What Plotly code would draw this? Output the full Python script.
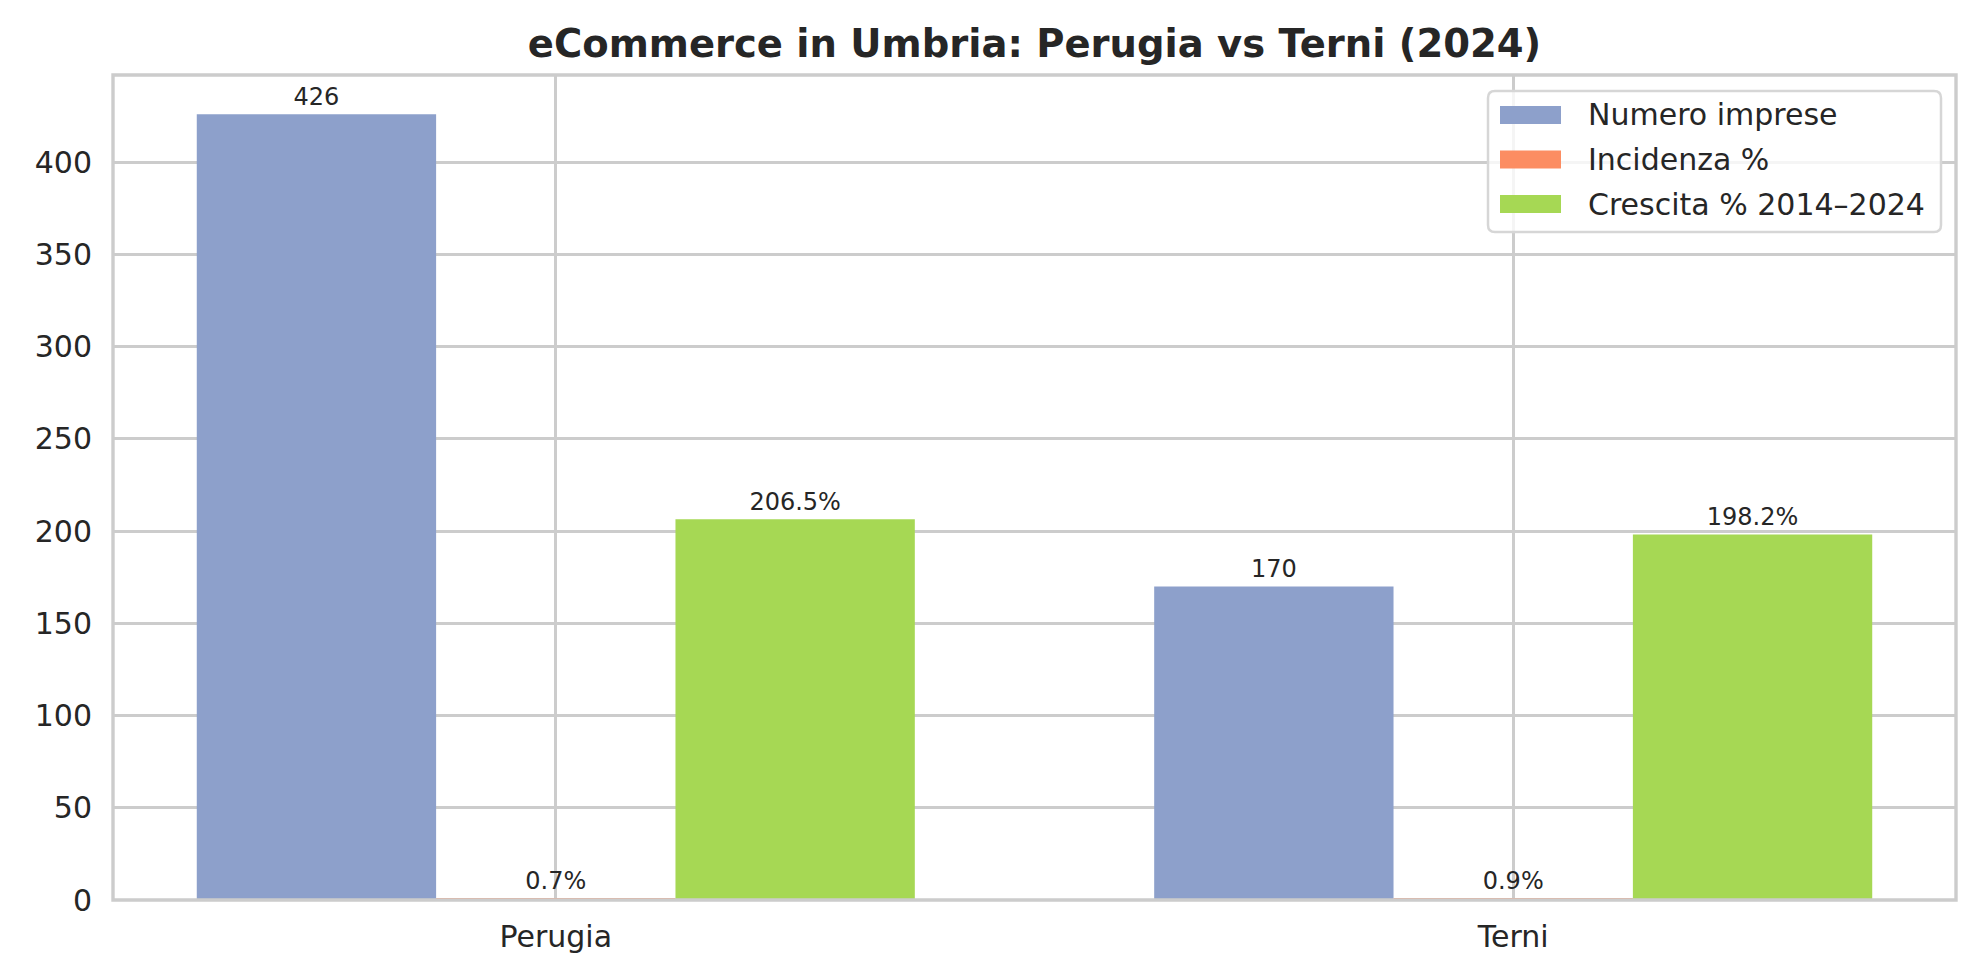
import plotly.graph_objects as go

# ---- data ----
categories = ["Perugia", "Terni"]
series_names = ["Numero imprese", "Incidenza %", "Crescita % 2014–2024"]
numero_imprese = [426, 170]
incidenza_pct = [0.7, 0.9]
crescita_pct = [206.5, 198.2]
label_numero = ["426", "170"]
label_incidenza = ["0.7%", "0.9%"]
label_crescita = ["206.5%", "198.2%"]
colors = ["#8da0cb", "#fc8d62", "#a6d854"]

# ---- layout geometry (pixels) ----
FW, FH = 1968, 968
ML, MR, MT, MB = 105, 20, 67, 76
PW, PH = FW - ML - MR, FH - MT - MB
FONT = "DejaVu Sans"
TXT = "#262626"
GRID = "#cccccc"

fig = go.Figure()
values = [numero_imprese, incidenza_pct, crescita_pct]
labels = [label_numero, label_incidenza, label_crescita]
for name, vals, labs, col in zip(series_names, values, labels, colors):
    fig.add_trace(go.Bar(
        x=categories, y=vals, name=name, marker=dict(color=col, line=dict(width=0)),
        text=labs, textposition="outside", cliponaxis=False,
        textfont=dict(family=FONT, size=24, color=TXT),
        showlegend=False,
    ))

# ---- custom legend (matplotlib-like) ----
def px_to_paper(xp, yp):
    return (xp - ML) / PW, (FH - MB - yp) / PH

def rr_path(x0, y0, x1, y1, r):
    def P(x, y):
        a, b = px_to_paper(x, y)
        return f"{a:.5f},{b:.5f}"
    return (f"M {P(x0 + r, y0)} L {P(x1 - r, y0)} Q {P(x1, y0)} {P(x1, y0 + r)} "
            f"L {P(x1, y1 - r)} Q {P(x1, y1)} {P(x1 - r, y1)} L {P(x0 + r, y1)} "
            f"Q {P(x0, y1)} {P(x0, y1 - r)} L {P(x0, y0 + r)} Q {P(x0, y0)} {P(x0 + r, y0)} Z")

shapes = [
    # axes frame (spines centred on the plot edges, drawn above bars)
    dict(type="rect", xref="paper", yref="paper", x0=0, x1=1, y0=0, y1=1,
         line=dict(color=GRID, width=3.4), fillcolor="rgba(0,0,0,0)", layer="above"),
    dict(type="path", xref="paper", yref="paper", path=rr_path(1480, 83, 1933, 224, 7),
         fillcolor="rgba(255,255,255,0.8)", line=dict(color="#d6d6d6", width=2.5)),
]
annotations = []
row_y = [107, 151.5, 196]
for name, col, yc in zip(series_names, colors, row_y):
    ax0, ay0 = px_to_paper(1492, yc - 9)
    ax1, ay1 = px_to_paper(1553, yc + 9)
    shapes.append(dict(type="rect", xref="paper", yref="paper", x0=ax0, x1=ax1, y0=ay1, y1=ay0,
                       fillcolor=col, line=dict(width=0)))
    tx, ty = px_to_paper(1578, yc)
    annotations.append(dict(xref="paper", yref="paper", x=tx, y=ty, text=name, showarrow=False,
                            xanchor="left", yanchor="middle",
                            font=dict(family=FONT, size=30, color=TXT)))

fig.update_layout(
    width=FW, height=FH,
    margin=dict(l=ML, r=MR, t=MT, b=MB, pad=0),
    paper_bgcolor="white", plot_bgcolor="white",
    barmode="group", bargap=0.25, bargroupgap=0,
    font=dict(family=FONT, color=TXT),
    title=dict(text="<b>eCommerce in Umbria: Perugia vs Terni (2024)</b>",
               x=0.5, xref="paper", y=1 - 35.5 / FH, yref="container",
               xanchor="center", yanchor="middle",
               font=dict(family=FONT, size=38.5, color=TXT)),
    shapes=shapes, annotations=annotations,
    showlegend=False,
)
fig.update_xaxes(
    type="category", range=[-0.4625, 1.4625],
    showgrid=True, gridcolor=GRID, gridwidth=2.7,
    showline=False, zeroline=False,
    ticks="", ticklabelstandoff=16,
    tickfont=dict(family=FONT, size=30, color=TXT),
)
fig.update_yaxes(
    range=[0, 447.3], dtick=50, tick0=0,
    showgrid=True, gridcolor=GRID, gridwidth=2.7, zeroline=False,
    showline=False,
    ticks="", ticklabelstandoff=20,
    tickfont=dict(family=FONT, size=30, color=TXT),
)

fig.write_html("out.html")
